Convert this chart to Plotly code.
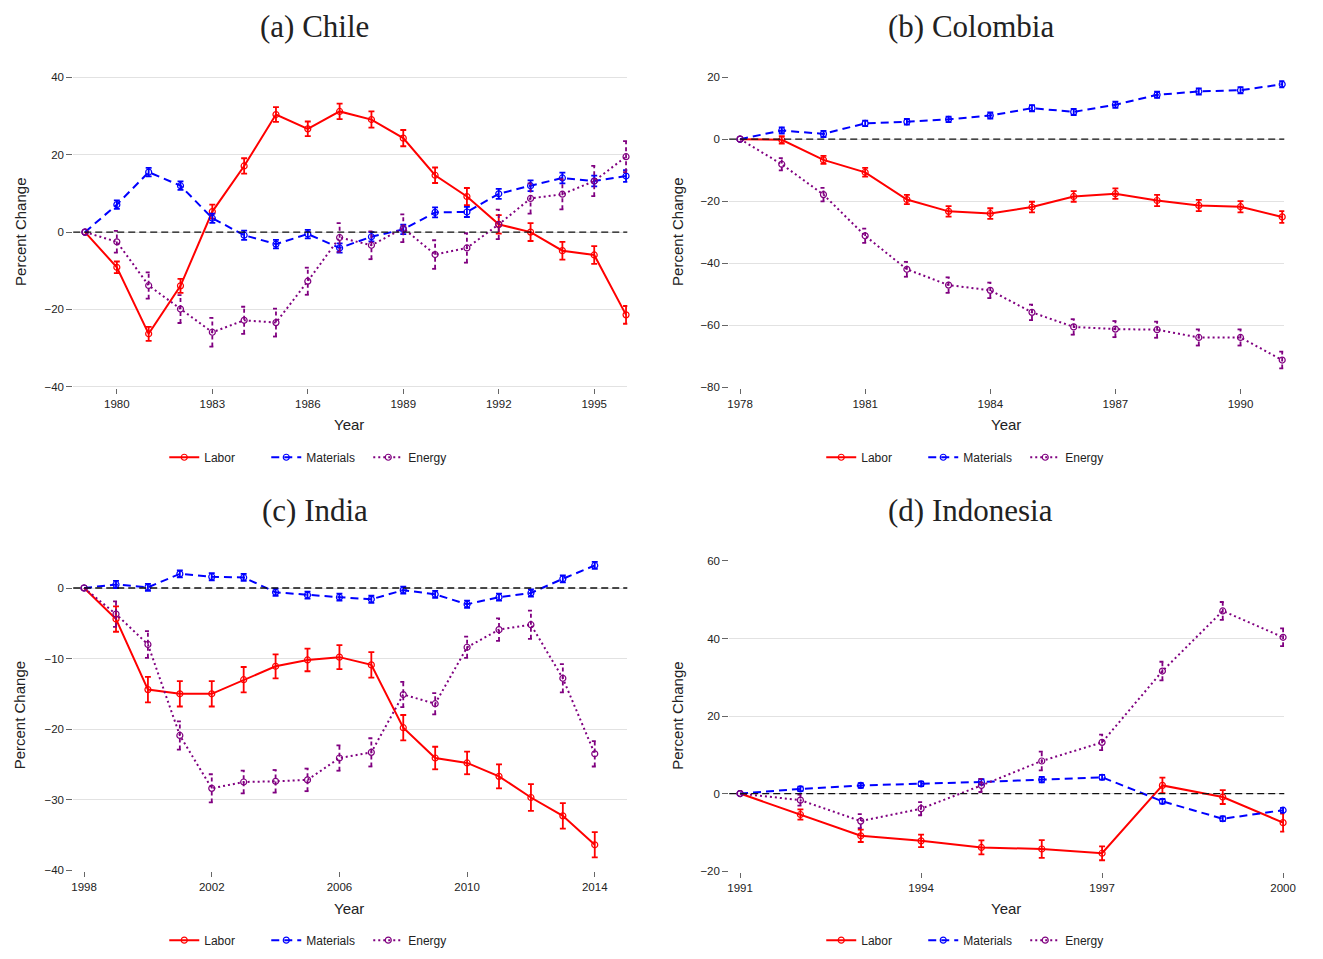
import plotly.graph_objects as go

# ---------------- data ----------------
chile_years = list(range(1979, 1997))
chile_labor = [0, -9.1, -26.3, -13.9, 5.3, 17.1, 30.4, 26.7, 31.2, 29.1, 24.3, 14.7, 9.2, 2.0, 0.0, -4.8, -5.9, -21.4]
chile_labor_err = [0, 1.5, 1.8, 1.8, 1.8, 2.0, 1.9, 1.9, 2.0, 2.1, 2.1, 2.0, 2.2, 2.4, 2.3, 2.3, 2.3, 2.3]
chile_materials = [0, 7.1, 15.5, 12.0, 3.6, -0.8, -3.1, -0.5, -4.1, -1.2, 0.7, 5.1, 5.2, 9.9, 12.0, 14.0, 13.2, 14.5]
chile_materials_err = [0, 1.1, 1.1, 1.1, 1.2, 1.2, 1.1, 1.1, 1.2, 1.2, 1.2, 1.3, 1.3, 1.3, 1.4, 1.4, 1.4, 1.5]
chile_energy = [0, -2.5, -13.8, -19.9, -25.9, -22.8, -23.4, -12.7, -1.4, -3.4, 1.0, -5.8, -4.1, 2.0, 8.7, 9.8, 13.2, 19.5]
chile_energy_err = [0, 2.8, 3.4, 3.6, 3.7, 3.5, 3.6, 3.5, 3.7, 3.6, 3.6, 3.7, 3.8, 3.8, 3.9, 3.9, 3.9, 4.0]

colombia_years = list(range(1978, 1992))
colombia_labor = [0, -0.2, -6.7, -10.7, -19.5, -23.3, -24.0, -21.9, -18.5, -17.6, -19.8, -21.4, -21.8, -25.1]
colombia_labor_err = [0, 1.2, 1.3, 1.4, 1.5, 1.7, 1.7, 1.7, 1.7, 1.7, 1.8, 1.8, 1.8, 1.9]
colombia_materials = [0, 2.8, 1.7, 5.1, 5.6, 6.4, 7.6, 10.0, 8.8, 11.1, 14.3, 15.4, 15.8, 17.7]
colombia_materials_err = [0, 1.0, 1.0, 0.9, 0.9, 0.9, 1.0, 1.0, 1.0, 1.0, 1.0, 1.0, 1.0, 1.0]
colombia_energy = [0, -8.1, -17.9, -31.2, -42.0, -47.1, -48.8, -55.9, -60.6, -61.3, -61.5, -64.0, -64.0, -71.3]
colombia_energy_err = [0, 2.0, 2.2, 2.3, 2.4, 2.5, 2.5, 2.5, 2.5, 2.6, 2.6, 2.6, 2.6, 2.7]

india_years = list(range(1998, 2015))
india_labor = [0, -4.4, -14.4, -15.0, -15.0, -13.0, -11.1, -10.2, -9.8, -10.9, -19.8, -24.1, -24.8, -26.7, -29.7, -32.3, -36.4]
india_labor_err = [0, 1.8, 1.8, 1.8, 1.8, 1.8, 1.7, 1.6, 1.7, 1.8, 1.8, 1.6, 1.6, 1.7, 1.9, 1.8, 1.8]
india_materials = [0, 0.5, 0.1, 2.0, 1.6, 1.5, -0.6, -1.0, -1.3, -1.6, -0.3, -0.9, -2.3, -1.3, -0.7, 1.3, 3.2]
india_materials_err = [0, 0.5, 0.5, 0.5, 0.5, 0.5, 0.5, 0.5, 0.5, 0.5, 0.5, 0.5, 0.5, 0.5, 0.5, 0.5, 0.5]
india_energy = [0, -3.7, -8.0, -20.9, -28.4, -27.5, -27.4, -27.2, -24.1, -23.3, -15.1, -16.4, -8.4, -5.9, -5.2, -12.8, -23.5]
india_energy_err = [0, 1.8, 1.9, 2.0, 2.0, 1.6, 1.6, 1.6, 1.8, 2.0, 1.8, 1.5, 1.5, 1.6, 2.0, 2.0, 1.8]

indonesia_years = list(range(1991, 2001))
indonesia_labor = [0, -5.4, -10.9, -12.2, -13.9, -14.3, -15.4, 2.1, -0.9, -7.5]
indonesia_labor_err = [0, 1.3, 1.6, 1.6, 1.8, 2.3, 1.8, 2.0, 1.8, 2.3]
indonesia_materials = [0, 1.2, 2.1, 2.5, 3.0, 3.6, 4.2, -2.0, -6.5, -4.3]
indonesia_materials_err = [0, 0.6, 0.6, 0.6, 0.7, 0.7, 0.6, 0.6, 0.6, 0.6]
indonesia_energy = [0, -1.7, -7.1, -3.9, 2.1, 8.4, 13.2, 31.6, 47.1, 40.3]
indonesia_energy_err = [0, 1.4, 1.8, 1.7, 1.7, 2.4, 2.0, 2.4, 2.3, 2.3]

panel_titles = ["(a) Chile", "(b) Colombia", "(c) India", "(d) Indonesia"]
series_names = ["Labor", "Materials", "Energy"]

x_ticks = [
    [1980, 1983, 1986, 1989, 1992, 1995],
    [1978, 1981, 1984, 1987, 1990],
    [1998, 2002, 2006, 2010, 2014],
    [1991, 1994, 1997, 2000],
]
y_ticks = [
    [-40, -20, 0, 20, 40],
    [-80, -60, -40, -20, 0, 20],
    [-40, -30, -20, -10, 0],
    [-20, 0, 20, 40, 60],
]

panels = [
    (chile_years, [(chile_labor, chile_labor_err), (chile_materials, chile_materials_err), (chile_energy, chile_energy_err)]),
    (colombia_years, [(colombia_labor, colombia_labor_err), (colombia_materials, colombia_materials_err), (colombia_energy, colombia_energy_err)]),
    (india_years, [(india_labor, india_labor_err), (india_materials, india_materials_err), (india_energy, india_energy_err)]),
    (indonesia_years, [(indonesia_labor, indonesia_labor_err), (indonesia_materials, indonesia_materials_err), (indonesia_energy, indonesia_energy_err)]),
]

# ---------------- layout geometry ----------------
W, H = 1323, 959
x_ranges = [[1978.63, 1996.04], [1977.74, 1991.05], [1997.66, 2015.02], [1990.82, 2000.02]]
y_ranges = [[-40.3, 40.3], [-80.3, 20.3], [-40.1, 3.95], [-20.2, 60.2]]
x_dom_px = [(72, 632), (735, 1296), (72, 632), (735, 1296)]
y_dom_px = [(72, 387), (72, 387), (561, 875), (561, 876)]
legend_left = [164, 828, 164, 828]

colors = ["#ff0000", "#0000ff", "#800080"]
dashes = ["solid", "8px,5px", "2px,3px"]
err_dash = ["solid", "solid", "4px,3px"]

sans = "Liberation Sans, Arial, sans-serif"
serif = "Liberation Serif, Times New Roman, serif"

fig = go.Figure()
layout = dict(
    width=W, height=H,
    margin=dict(l=0, r=0, t=0, b=0),
    paper_bgcolor="white", plot_bgcolor="white",
    showlegend=True,
    annotations=[], shapes=[],
)

for i, (years, series) in enumerate(panels):
    k = "" if i == 0 else str(i + 1)
    xa, ya = "x" + k, "y" + k
    leg = "legend" + k
    xd = [x_dom_px[i][0] / W, x_dom_px[i][1] / W]
    yd = [1 - y_dom_px[i][1] / H, 1 - y_dom_px[i][0] / H]
    span_x = x_ranges[i][1] - x_ranges[i][0]
    cap = 3.0 * span_x / (x_dom_px[i][1] - x_dom_px[i][0])

    layout["xaxis" + k] = dict(
        domain=xd, range=x_ranges[i], anchor=ya,
        tickvals=x_ticks[i], ticks="outside", ticklen=5, tickcolor="#666", tickwidth=1,
        showgrid=False, zeroline=False, showline=False,
        tickfont=dict(family=sans, size=11.5, color="#222"),
    )
    layout["yaxis" + k] = dict(
        domain=yd, range=y_ranges[i], anchor=xa,
        tickvals=y_ticks[i], ticks="outside", ticklen=6, tickcolor="#666", tickwidth=1,
        showgrid=True, gridcolor="#e2e2e2", gridwidth=1,
        zeroline=False, showline=False,
        tickfont=dict(family=sans, size=11.5, color="#222"),
    )

    # horizontal reference at zero
    layout["shapes"].append(dict(
        type="line", xref=xa + " domain", yref=ya, x0=0, x1=1, y0=0, y1=0,
        line=dict(color="#111", width=1.3, dash="7px,4px"), layer="above",
    ))

    for j, (vals, errs) in enumerate(series):
        # confidence interval caps and whiskers
        ex, ey = [], []
        for xv, yv, ev in zip(years, vals, errs):
            if ev <= 0:
                continue
            lo, hi = yv - ev, yv + ev
            ex += [xv - cap, xv + cap, None, xv, xv, None, xv - cap, xv + cap, None]
            ey += [lo, lo, None, lo, hi, None, hi, hi, None]
        fig.add_trace(go.Scatter(
            x=ex, y=ey, mode="lines", xaxis=xa, yaxis=ya,
            line=dict(color=colors[j], width=1.8, dash=err_dash[j]),
            showlegend=False, hoverinfo="skip", cliponaxis=False,
        ))
        fig.add_trace(go.Scatter(
            x=years, y=vals, mode="lines+markers", name=series_names[j],
            xaxis=xa, yaxis=ya, legend=leg,
            line=dict(color=colors[j], width=2, dash=dashes[j]),
            marker=dict(symbol="circle-open", size=6, color=colors[j], line=dict(width=1.2)),
            cliponaxis=False,
        ))

    cx = (x_dom_px[i][0] + x_dom_px[i][1]) / 2
    legend_y = 457 if i < 2 else 945
    layout[leg] = dict(
        orientation="h", x=legend_left[i] / W,
        xanchor="left", y=1 - legend_y / H, yanchor="middle",
        font=dict(family=sans, size=12, color="#222"),
        bgcolor="rgba(0,0,0,0)", itemwidth=30,
        entrywidth=57, entrywidthmode="pixels",
    )

    title_y = 22 if i < 2 else 511
    title_x = 316 if i % 2 == 0 else 979
    layout["annotations"].append(dict(
        text=panel_titles[i], xref="paper", yref="paper",
        x=title_x / W, y=1 - title_y / H, xanchor="center", yanchor="middle",
        showarrow=False, font=dict(family=serif, size=31, color="#222"),
    ))
    # axis titles
    layout["annotations"].append(dict(
        text="Year", xref="paper", yref="paper",
        x=(cx - 1) / W, y=1 - (424 if i < 2 else 913) / H,
        xanchor="center", yanchor="middle", showarrow=False,
        font=dict(family=sans, size=15, color="#222"),
    ))
    ymid = (y_dom_px[i][0] + y_dom_px[i][1]) / 2
    layout["annotations"].append(dict(
        text="Percent Change", xref="paper", yref="paper",
        x=(18 if i % 2 == 0 else 682) / W, y=1 - ymid / H,
        xanchor="center", yanchor="middle", textangle=-90, showarrow=False,
        font=dict(family=sans, size=15, color="#222"),
    ))

fig.update_layout(**layout)
fig.write_html("out.html")
